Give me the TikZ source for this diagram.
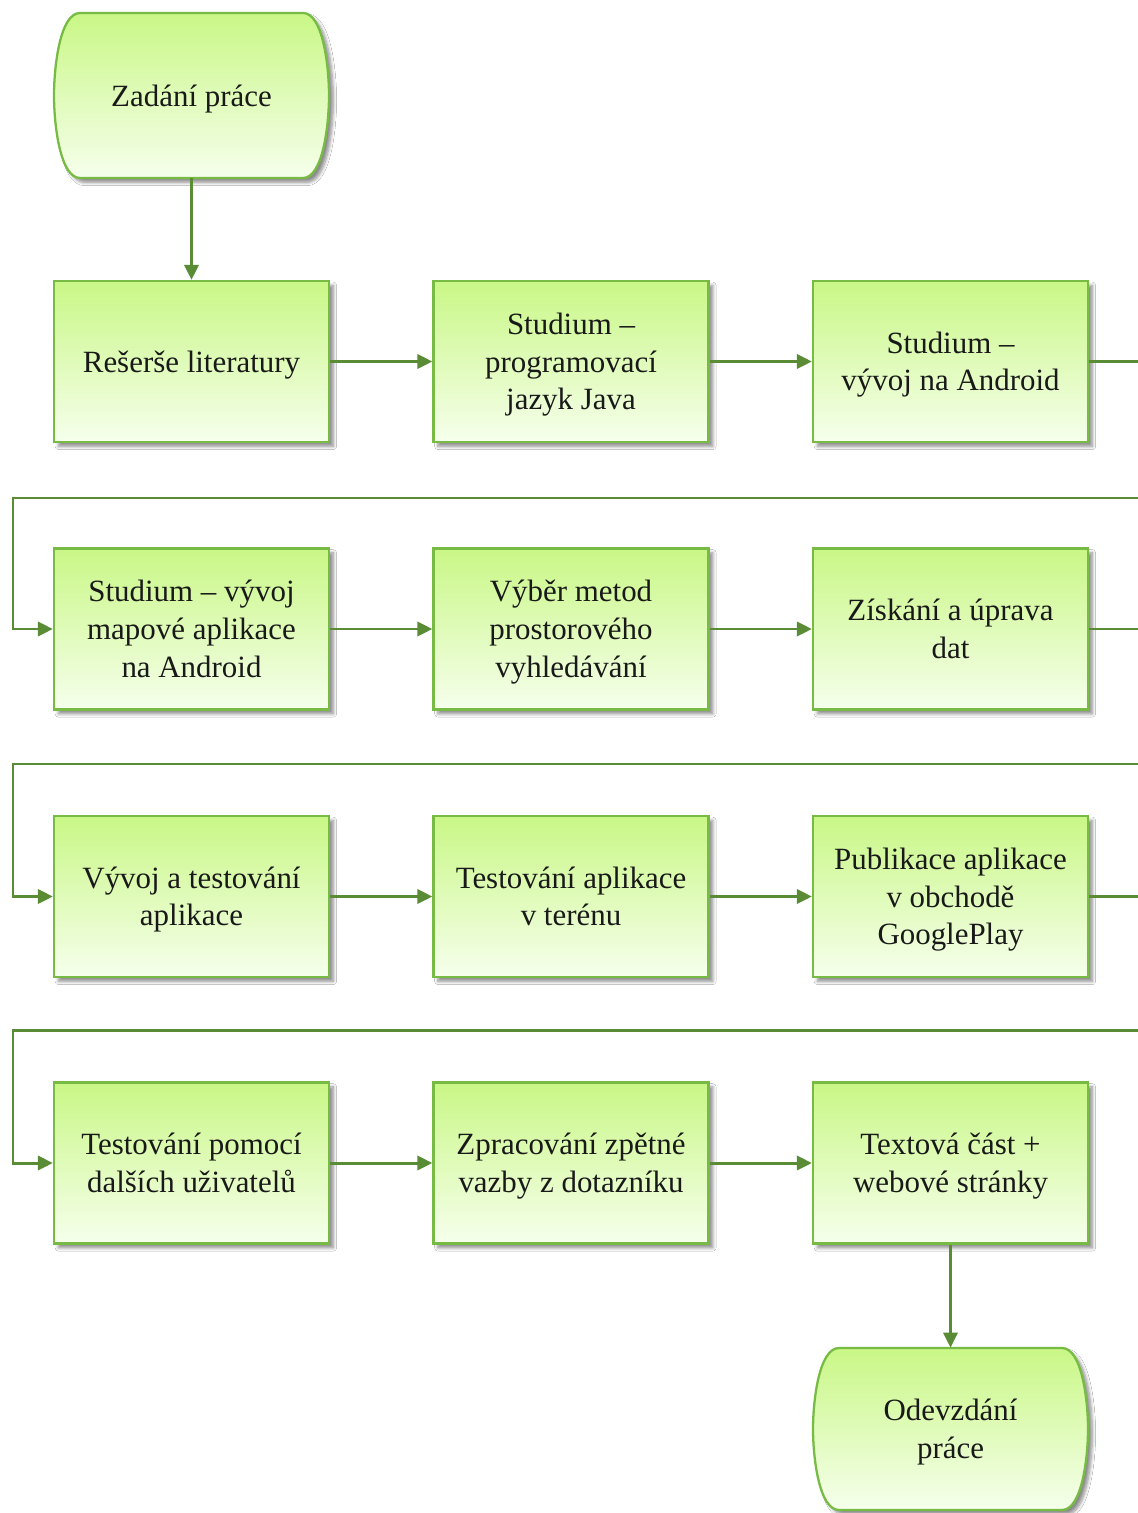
\documentclass[tikz,border=0pt]{standalone}
\usepackage{fontspec}
\setmainfont{Liberation Serif}
\usetikzlibrary{arrows.meta,shadows.blur}
\definecolor{linegreen}{HTML}{5A8C35}
\definecolor{boxedge}{HTML}{77BB44}
\definecolor{topfill}{HTML}{C9F786}
\definecolor{botfill}{HTML}{F6FFEC}
\newcommand{\fstrut}{\rule{0pt}{18pt}}
\newcommand{\lstrut}{\rule[-6pt]{0pt}{0pt}}
\newcommand{\termpath}[4]{%
  \path[termshape] (#1-#3+26,#2-#4) -- (#1+#3-26,#2-#4)
    .. controls (#1+#3-6,#2-#4) and (#1+#3,#2-#4*0.35) .. (#1+#3,#2)
    .. controls (#1+#3,#2+#4*0.35) and (#1+#3-6,#2+#4) .. (#1+#3-26,#2+#4)
    -- (#1-#3+26,#2+#4)
    .. controls (#1-#3+6,#2+#4) and (#1-#3,#2+#4*0.35) .. (#1-#3,#2)
    .. controls (#1-#3,#2-#4*0.35) and (#1-#3+6,#2-#4) .. cycle;}
\begin{document}
\begin{tikzpicture}[x=0.02cm,y=-0.02cm,
  every node/.style={font=\fontsize{17.6}{21.5}\selectfont, text=black!90, align=center},
  shadowed/.style={blur shadow={shadow xshift=2.5pt, shadow yshift=-2.5pt, shadow blur steps=6, shadow opacity=45}},
  stepbox/.style={rectangle, draw=boxedge, line width=1.3pt, top color=topfill, bottom color=botfill,
    minimum width=5.5cm, minimum height=3.22cm, inner sep=2pt, shadowed},
  termshape/.style={draw=boxedge, line width=1.3pt, top color=topfill, bottom color=botfill, shadowed},
  termnode/.style={rectangle, minimum width=5.5cm, inner sep=2pt},
  conn/.style={draw=linegreen, line width=1.7pt, -{Triangle[length=8.5pt,width=8pt]}}
]
\useasboundingbox (0,0) rectangle (1137,1513);
\fill[white] (0,0) rectangle (1137,1513);

\termpath{191.5}{95.5}{137.5}{82.5}
\node[termnode, minimum height=3.3cm] (start) at (191.5,95.5) {\fstrut Zadání práce\lstrut};

\node[stepbox] (a1) at (191.5,361.5) {\fstrut Rešerše literatury\lstrut};
\node[stepbox] (a2) at (571,361.5) {\fstrut Studium –\\programovací\\jazyk Java\lstrut};
\node[stepbox] (a3) at (950.5,361.5) {\fstrut Studium –\\vývoj na Android\lstrut};

\node[stepbox] (b1) at (191.5,629) {\fstrut Studium – vývoj\\mapové aplikace\\na Android\lstrut};
\node[stepbox] (b2) at (571,629) {\fstrut Výběr metod\\prostorového\\vyhledávání\lstrut};
\node[stepbox] (b3) at (950.5,629) {\fstrut Získání a úprava\\dat\lstrut};

\node[stepbox] (c1) at (191.5,896.5) {\fstrut Vývoj a testování\\aplikace\lstrut};
\node[stepbox] (c2) at (571,896.5) {\fstrut Testování aplikace\\v terénu\lstrut};
\node[stepbox] (c3) at (950.5,896.5) {\fstrut Publikace aplikace\\v obchodě\\GooglePlay\lstrut};

\node[stepbox] (d1) at (191.5,1163) {\fstrut Testování pomocí\\dalších uživatelů\lstrut};
\node[stepbox] (d2) at (571,1163) {\fstrut Zpracování zpětné\\vazby z dotazníku\lstrut};
\node[stepbox] (d3) at (950.5,1163) {\fstrut Textová část +\\webové stránky\lstrut};

\termpath{950.5}{1429}{137.5}{81}
\node[termnode, minimum height=3.24cm] (end) at (950.5,1429) {\fstrut Odevzdání\\práce\lstrut};

\coordinate (r1) at (1150,498);
\coordinate (l1) at (13,498);
\coordinate (r2) at (1150,764);
\coordinate (l2) at (13,764);
\coordinate (r3) at (1150,1030);
\coordinate (l3) at (13,1030);

\draw[conn] (start) -- (a1);
\draw[conn] (a1) -- (a2);
\draw[conn] (a2) -- (a3);
\draw[conn] (a3.east) -| (r1) -- (l1) |- (b1.west);
\draw[conn] (b1) -- (b2);
\draw[conn] (b2) -- (b3);
\draw[conn] (b3.east) -| (r2) -- (l2) |- (c1.west);
\draw[conn] (c1) -- (c2);
\draw[conn] (c2) -- (c3);
\draw[conn] (c3.east) -| (r3) -- (l3) |- (d1.west);
\draw[conn] (d1) -- (d2);
\draw[conn] (d2) -- (d3);
\draw[conn] (d3) -- (end);
\end{tikzpicture}
\end{document}
